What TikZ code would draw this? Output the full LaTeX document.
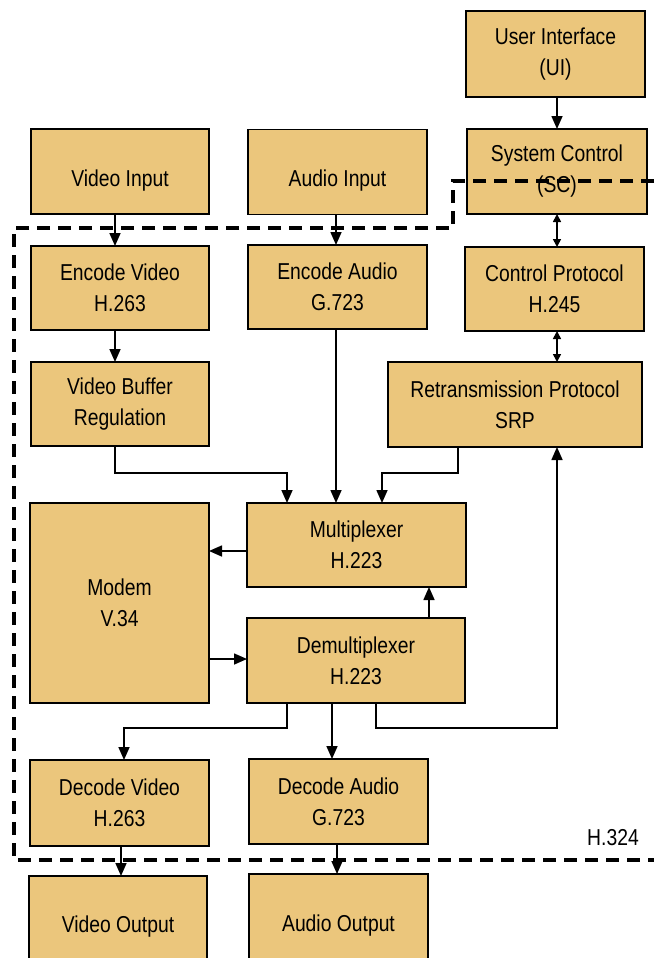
\documentclass[tikz,border=0pt]{standalone}
\usepackage{fontspec}
\setmainfont{Liberation Sans}[FakeStretch=0.84]
\usetikzlibrary{arrows.meta,calc}
\definecolor{boxfill}{HTML}{EBC67C}
\begin{document}
\begin{tikzpicture}[x=1pt,y=-1pt]
\tikzset{
 box/.style={draw=black, line width=1.6pt, fill=boxfill, inner sep=0pt, outer sep=0pt, align=center, font=\fontsize{23}{31}\selectfont},
 single/.style={text height=29pt, text depth=0pt},
 arr/.style={line width=1.6pt, -{Triangle[length=13pt,width=11pt]}},
 darr/.style={line width=1.6pt, {Triangle[length=8pt,width=8pt]}-{Triangle[length=8pt,width=8pt]}},
 boundary/.style={line width=3.2pt, dash pattern=on 13pt off 8pt},
 lbl/.style={font=\fontsize{23}{31}\selectfont, inner sep=0pt}
}
\fill[white] (0,0) rectangle (654,958);
\useasboundingbox (0,0) rectangle (654,958);

% boxes
\node[box, minimum width=179pt, minimum height=86pt] (ui) at (555.5,54) {User Interface\\(UI)};
\node[box, minimum width=180pt, minimum height=85pt] (sc) at (557,171.5) {System Control\\(SC)};
\node[box, single, minimum width=178pt, minimum height=85pt] (vin) at (120,171.5) {Video Input};
\node[box, single, minimum width=179pt, minimum height=85pt] (ain) at (337.5,172) {Audio Input};
\node[box, minimum width=178pt, minimum height=84pt] (ev) at (120,288) {Encode Video\\H.263};
\node[box, minimum width=179pt, minimum height=84pt] (ea) at (337.5,287) {Encode Audio\\G.723};
\node[box, minimum width=179pt, minimum height=84pt] (cp) at (554.5,289) {Control Protocol\\H.245};
\node[box, minimum width=178pt, minimum height=84pt] (vb) at (120,404) {Video Buffer\\Regulation};
\node[box, minimum width=254pt, minimum height=85pt] (rp) at (515,404.5) {Retransmission Protocol\\SRP};
\node[box, minimum width=219pt, minimum height=84pt] (mux) at (356.5,545) {Multiplexer\\H.223};
\node[box, minimum width=179pt, minimum height=200pt] (modem) at (119.5,603) {Modem\\V.34};
\node[box, minimum width=218pt, minimum height=85pt] (demux) at (356,660.5) {Demultiplexer\\H.223};
\node[box, minimum width=179pt, minimum height=86pt] (dv) at (119.5,803) {Decode Video\\H.263};
\node[box, minimum width=179pt, minimum height=85pt] (da) at (338.5,801.5) {Decode Audio\\G.723};
\node[box, single, minimum width=178pt, minimum height=84pt] (vo) at (118,918) {Video Output};
\node[box, single, minimum width=179pt, minimum height=85pt] (ao) at (338.5,916.5) {Audio Output};
\node[lbl] (h324) at (613,838) {H.324};

% helper coordinates
\coordinate (xA) at (115,0);
\coordinate (xB) at (121,0);
\coordinate (xC) at (124,0);
\coordinate (xD) at (287,0);
\coordinate (xE) at (336,0);
\coordinate (xF) at (332,0);
\coordinate (xG) at (337,0);
\coordinate (xH) at (382,0);
\coordinate (xI) at (458,0);
\coordinate (xJ) at (429,0);
\coordinate (xK) at (557,0);
\coordinate (xL) at (376,0);
\coordinate (yM) at (0,473);
\coordinate (yD) at (0,728);
\coordinate (yA) at (0,551);
\coordinate (yB) at (0,659);

% boundary
\draw[boundary] (654,181) -- (453,181) -- (453,228) -- (14,228) -- (14,860) -- (654,860);

% connectors
\draw[arr] (xA |- vin.south) -- (xA |- ev.north);
\draw[arr] (xE |- ain.south) -- (xE |- ea.north);
\draw[arr] (xK |- ui.south) -- (xK |- sc.north);
\draw[darr] (xK |- sc.south) -- (xK |- cp.north);
\draw[darr] (xK |- cp.south) -- (xK |- rp.north);
\draw[arr] (xA |- ev.south) -- (xA |- vb.north);
\draw[arr] (xA |- vb.south) -- (xA |- yM) -- (xD |- yM) -- (xD |- mux.north);
\draw[arr] (xE |- ea.south) -- (xE |- mux.north);
\draw[arr] (xI |- rp.south) -- (xI |- yM) -- (xH |- yM) -- (xH |- mux.north);
\draw[arr] (mux.west |- yA) -- (modem.east |- yA);
\draw[arr] (modem.east |- yB) -- (demux.west |- yB);
\draw[arr] (xJ |- demux.north) -- (xJ |- mux.south);
\draw[arr] (xD |- demux.south) -- (xD |- yD) -- (xC |- yD) -- (xC |- dv.north);
\draw[arr] (xF |- demux.south) -- (xF |- da.north);
\draw[arr] (xL |- demux.south) -- (xL |- yD) -- (xK |- yD) -- (xK |- rp.south);
\draw[arr] (xB |- dv.south) -- (xB |- vo.north);
\draw[arr] (xG |- da.south) -- (xG |- ao.north);
\end{tikzpicture}
\end{document}
